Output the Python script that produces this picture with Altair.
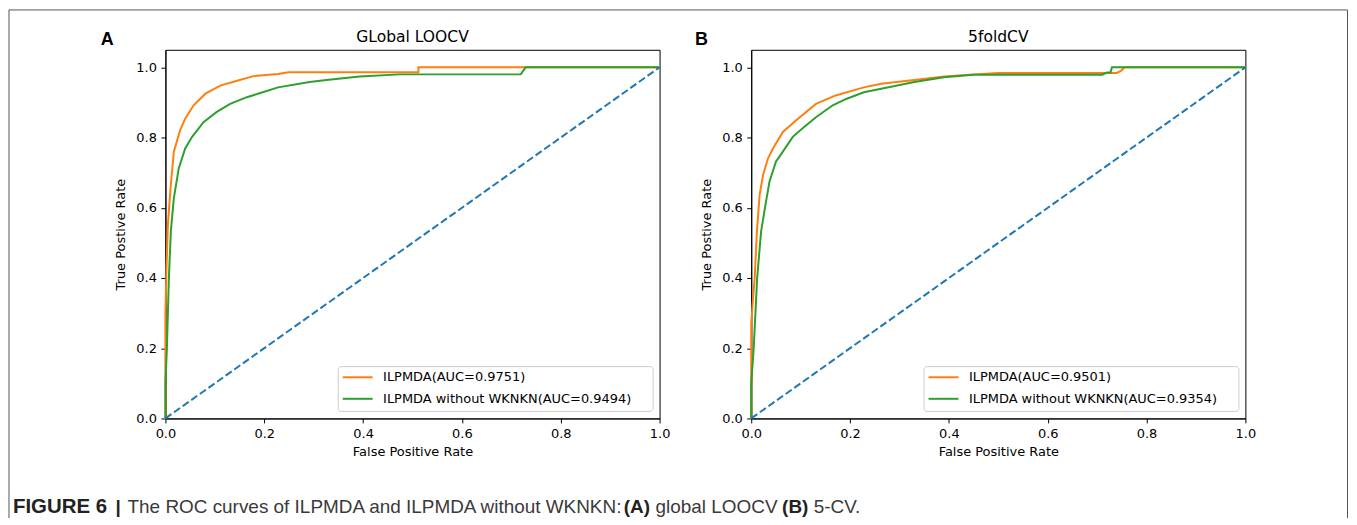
import altair as alt
import pandas as pd

# ---------------- data ----------------
# Panel A: global LOOCV
a_ilp_fpr = [0, 0.0, 0.002, 0.005, 0.010, 0.017, 0.030, 0.040, 0.057, 0.081, 0.111, 0.145, 0.178, 0.228, 0.249, 0.512, 0.512, 1.0]
a_ilp_tpr = [0, 0.30, 0.42, 0.55, 0.65, 0.76, 0.822, 0.854, 0.892, 0.925, 0.948, 0.962, 0.975, 0.981, 0.986, 0.986, 1.0, 1.0]
a_wo_fpr = [0, 0.0, 0.003, 0.007, 0.011, 0.017, 0.027, 0.040, 0.054, 0.077, 0.104, 0.131, 0.165, 0.192, 0.228, 0.292, 0.326, 0.393, 0.474, 0.719, 0.729, 1.0]
a_wo_tpr = [0, 0.10, 0.20, 0.40, 0.533, 0.627, 0.712, 0.769, 0.802, 0.844, 0.873, 0.896, 0.915, 0.927, 0.943, 0.958, 0.964, 0.974, 0.980, 0.980, 1.0, 1.0]

# Panel B: 5-fold CV
b_ilp_fpr = [0, 0.0, 0.003, 0.007, 0.0115, 0.017, 0.024, 0.034, 0.044, 0.064, 0.091, 0.131, 0.171, 0.228, 0.263, 0.330, 0.390, 0.450, 0.500, 0.740, 0.748, 0.756, 1.0]
b_ilp_tpr = [0, 0.27, 0.33, 0.40, 0.533, 0.637, 0.694, 0.741, 0.769, 0.816, 0.849, 0.896, 0.920, 0.943, 0.953, 0.964, 0.974, 0.980, 0.984, 0.984, 0.990, 1.0, 1.0]
b_wo_fpr = [0, 0.0, 0.005, 0.012, 0.020, 0.030, 0.037, 0.050, 0.064, 0.084, 0.107, 0.131, 0.165, 0.192, 0.228, 0.263, 0.330, 0.390, 0.450, 0.710, 0.720, 0.727, 0.730, 1.0]
b_wo_tpr = [0, 0.10, 0.20, 0.40, 0.533, 0.618, 0.675, 0.731, 0.760, 0.802, 0.830, 0.858, 0.892, 0.910, 0.929, 0.939, 0.958, 0.972, 0.979, 0.979, 0.985, 0.985, 1.0, 1.0]

diag_x = [0.0, 1.0]
diag_y = [0.0, 1.0]

a_labels = ["ILPMDA(AUC=0.9751)", "ILPMDA without WKNKN(AUC=0.9494)"]
b_labels = ["ILPMDA(AUC=0.9501)", "ILPMDA without WKNKN(AUC=0.9354)"]
series_colors = ["#ff7f0e", "#2ca02c"]
diag_color = "#1f77b4"

x_ticks = [0.0, 0.2, 0.4, 0.6, 0.8, 1.0]
y_ticks = [0.0, 0.2, 0.4, 0.6, 0.8, 1.0]

caption_parts = ["FIGURE 6", "|", "The ROC curves of ILPMDA and ILPMDA without WKNKN:", "(A)", "global LOOCV", "(B)", "5-CV."]
caption_bold = [True, True, False, True, False, True, False]
caption_size = [20.5, 19, 19, 19, 19, 19, 19]
caption_x = [-153, -50, -38, 460, 492, 619, 650.7]  # relative to panel A plot origin

FONT = "DejaVu Sans"
CAP_FONT = "Liberation Sans"


def line_df(fpr, tpr):
    return pd.DataFrame({"fpr": fpr, "tpr": tpr, "idx": list(range(len(fpr)))})


def panel(ilp_fpr, ilp_tpr, wo_fpr, wo_tpr, labels, title, letter, letter_x, extra=None):
    xenc = alt.X("fpr:Q", scale=alt.Scale(domain=[0, 1], nice=False, zero=False, padding=0),
                 axis=alt.Axis(values=x_ticks, format=".1f", title="False Positive Rate", titlePadding=5))
    yenc = alt.Y("tpr:Q", scale=alt.Scale(domain=[0, 1.05], nice=False, zero=False, padding=0),
                 axis=alt.Axis(values=y_ticks, format=".1f", title="True Postive Rate", titlePadding=8))
    layers = []
    for (f, t, c) in [(ilp_fpr, ilp_tpr, series_colors[0]), (wo_fpr, wo_tpr, series_colors[1])]:
        layers.append(alt.Chart(line_df(f, t)).mark_line(color=c, strokeWidth=2, interpolate="linear")
                      .encode(x=xenc, y=yenc, order=alt.Order("idx:Q")))
    layers.append(alt.Chart(line_df(diag_x, diag_y)).mark_line(color=diag_color, strokeWidth=2, strokeDash=[7.4, 3.2])
                  .encode(x=xenc, y=yenc, order=alt.Order("idx:Q")))
    one = pd.DataFrame({"k": [0]})
    # legend frame
    layers.append(alt.Chart(one).mark_rect(fill="white", fillOpacity=0.8, stroke="#cccccc", strokeWidth=1, cornerRadius=3)
                  .encode(x=alt.value(173.5), x2=alt.value(489.5), y=alt.value(318), y2=alt.value(363)))
    for i, (lab, col) in enumerate(zip(labels, series_colors)):
        yy = 328.7 + 21.6 * i
        layers.append(alt.Chart(one).mark_rule(color=col, strokeWidth=2)
                      .encode(x=alt.value(178), x2=alt.value(208), y=alt.value(yy), y2=alt.value(yy)))
        layers.append(alt.Chart(pd.DataFrame({"t": [lab]})).mark_text(font=FONT, fontSize=13, align="left", baseline="middle", color="black")
                      .encode(text="t:N", x=alt.value(218.5), y=alt.value(yy)))
    # title and panel letter
    layers.append(alt.Chart(pd.DataFrame({"t": [title]})).mark_text(font=FONT, fontSize=15.6, align="center", baseline="alphabetic", color="black")
                  .encode(text="t:N", x=alt.value(248), y=alt.value(-8)))
    layers.append(alt.Chart(pd.DataFrame({"t": [letter]})).mark_text(font=CAP_FONT, fontSize=18, fontWeight="bold", align="center", baseline="alphabetic", color="black")
                  .encode(text="t:N", x=alt.value(letter_x), y=alt.value(-5.3)))
    if extra:
        layers.extend(extra)
    return alt.layer(*layers).properties(width=496, height=370)


# outer frame and caption (attached to panel A, positioned in pixels)
one = pd.DataFrame({"k": [0]})
frame_col = "#555555"
extra = [
    alt.Chart(one).mark_rule(color=frame_col, strokeWidth=1).encode(x=alt.value(-157), x2=alt.value(-157), y=alt.value(-40), y2=alt.value(470)),
    alt.Chart(one).mark_rule(color=frame_col, strokeWidth=1).encode(x=alt.value(-157), x2=alt.value(1186.5), y=alt.value(-40), y2=alt.value(-40)),
    alt.Chart(one).mark_rule(color=frame_col, strokeWidth=1).encode(x=alt.value(1186.5), x2=alt.value(1186.5), y=alt.value(-40), y2=alt.value(470)),
]
for txt, bold, size, cx in zip(caption_parts, caption_bold, caption_size, caption_x):
    extra.append(alt.Chart(pd.DataFrame({"t": [txt]})).mark_text(font=CAP_FONT, fontSize=size, fontWeight="bold" if bold else "normal",
                                                                  align="left", baseline="alphabetic", color="#222222" if bold else "#3a3a3a")
                 .encode(text="t:N", x=alt.value(cx), y=alt.value(465.3)))

pa = panel(a_ilp_fpr, a_ilp_tpr, a_wo_fpr, a_wo_tpr, a_labels, "GLobal LOOCV", "A", -58.3, extra)
pb = panel(b_ilp_fpr, b_ilp_tpr, b_wo_fpr, b_wo_tpr, b_labels, "5foldCV", "B", -50)

chart = alt.hconcat(pa, pb, spacing=92, bounds="flush").properties(padding=0).configure(
    background="white"
).configure_view(
    stroke="black", strokeWidth=1
).configure_axis(
    labelFont=FONT, labelFontSize=13, titleFont=FONT, titleFontSize=13, titleFontWeight="normal",
    labelColor="black", titleColor="black", domainColor="black", tickColor="black",
    tickSize=4.5, labelPadding=4.5, grid=False, domainWidth=1, tickWidth=1, labelFlush=False,
)

chart.save("out.html", embed_options={"renderer": "svg", "actions": False})
